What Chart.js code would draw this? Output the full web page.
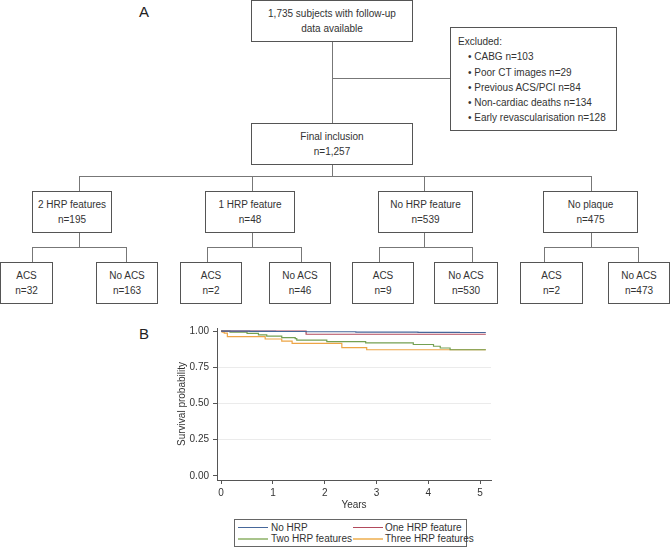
<!DOCTYPE html>
<html>
<head>
<meta charset="utf-8">
<script src="https://cdn.jsdelivr.net/npm/chart.js@4"></script>
<style>
  body { margin: 0; background: #fff; font-family: "Liberation Sans", Arial, sans-serif; color: #333; }
  #page { position: relative; width: 670px; height: 549px; overflow: hidden; background: #fff; }
  .box { position: absolute; box-sizing: border-box; border: 1px solid #555; background: #fff;
         font-size: 10px; line-height: 15px; text-align: center; padding-top: 5px; white-space: nowrap; }
  .ln { position: absolute; background: #777; }
  .lbl { position: absolute; font-size: 15px; color: #222; }
  #excl { text-align: left; padding-left: 7px; padding-top: 6px; line-height: 15.25px; }
  #excl .b { padding-left: 10px; }
  #chart { position: absolute; left: 170px; top: 318px; }
  #legend { position: absolute; left: 234px; top: 519px; width: 233px; height: 28px; box-sizing: border-box;
            border: 1px solid #666; font-size: 10px; }
  #legend span { position: absolute; line-height: 11px; white-space: nowrap; }
  #legend i { position: absolute; width: 30px; }
</style>
</head>
<body>
<div id="page">
  <div class="lbl" style="left:139px; top:3px;">A</div>
  <div class="lbl" style="left:139px; top:325px;">B</div>

  <!-- flow chart -->
  <div class="box" style="left:251px; top:0; width:162px; height:42px;">1,735 subjects with follow-up<br>data available</div>
  <div class="ln" style="left:332px; top:42px; width:1px; height:81px;"></div>
  <div class="ln" style="left:332px; top:78px; width:118px; height:1px;"></div>
  <div class="box" id="excl" style="left:450px; top:27px; width:167px; height:104px;">
    Excluded:<br>
    <span class="b">&bull; CABG n=103</span><br>
    <span class="b">&bull; Poor CT images n=29</span><br>
    <span class="b">&bull; Previous ACS/PCI n=84</span><br>
    <span class="b">&bull; Non-cardiac deaths n=134</span><br>
    <span class="b">&bull; Early revascularisation n=128</span>
  </div>
  <div class="box" style="left:251px; top:123px; width:162px; height:42px;">Final inclusion<br>n=1,257</div>
  <div class="ln" style="left:332px; top:165px; width:1px; height:11px;"></div>
  <div class="ln" style="left:79px; top:176px; width:513px; height:1px;"></div>
  <div class="ln" style="left:79px; top:176px; width:1px; height:15px;"></div>
  <div class="ln" style="left:252px; top:176px; width:1px; height:15px;"></div>
  <div class="ln" style="left:424px; top:176px; width:1px; height:15px;"></div>
  <div class="ln" style="left:591px; top:176px; width:1px; height:15px;"></div>

  <div class="box" style="left:32px; top:191px; width:80px; height:42px;">2 HRP features<br>n=195</div>
  <div class="box" style="left:205px; top:191px; width:90px; height:42px;">1 HRP feature<br>n=48</div>
  <div class="box" style="left:378px; top:191px; width:95px; height:42px;">No HRP feature<br>n=539</div>
  <div class="box" style="left:543px; top:191px; width:95px; height:42px;">No plaque<br>n=475</div>

  <div class="ln" style="left:79px; top:233px; width:1px; height:14px;"></div>
  <div class="ln" style="left:252px; top:233px; width:1px; height:14px;"></div>
  <div class="ln" style="left:424px; top:233px; width:1px; height:14px;"></div>
  <div class="ln" style="left:591px; top:233px; width:1px; height:14px;"></div>

  <div class="ln" style="left:32px; top:247px; width:95px; height:1px;"></div>
  <div class="ln" style="left:207px; top:247px; width:95px; height:1px;"></div>
  <div class="ln" style="left:379px; top:247px; width:94px; height:1px;"></div>
  <div class="ln" style="left:544px; top:247px; width:95px; height:1px;"></div>
  <div class="ln" style="left:32px; top:247px; width:1px; height:15px;"></div>
  <div class="ln" style="left:126px; top:247px; width:1px; height:15px;"></div>
  <div class="ln" style="left:207px; top:247px; width:1px; height:15px;"></div>
  <div class="ln" style="left:301px; top:247px; width:1px; height:15px;"></div>
  <div class="ln" style="left:379px; top:247px; width:1px; height:15px;"></div>
  <div class="ln" style="left:472px; top:247px; width:1px; height:15px;"></div>
  <div class="ln" style="left:544px; top:247px; width:1px; height:15px;"></div>
  <div class="ln" style="left:638px; top:247px; width:1px; height:15px;"></div>

  <div class="box" style="left:0; top:262px; width:53px; height:42px;">ACS<br>n=32</div>
  <div class="box" style="left:96px; top:262px; width:62px; height:42px;">No ACS<br>n=163</div>
  <div class="box" style="left:180px; top:262px; width:62px; height:42px;">ACS<br>n=2</div>
  <div class="box" style="left:269px; top:262px; width:62px; height:42px;">No ACS<br>n=46</div>
  <div class="box" style="left:352px; top:262px; width:62px; height:42px;">ACS<br>n=9</div>
  <div class="box" style="left:434px; top:262px; width:64px; height:42px;">No ACS<br>n=530</div>
  <div class="box" style="left:520px; top:262px; width:63px; height:42px;">ACS<br>n=2</div>
  <div class="box" style="left:608px; top:262px; width:62px; height:42px;">No ACS<br>n=473</div>

  <canvas id="chart" width="330" height="200"></canvas>

  <div id="legend">
    <i style="left:3px; top:7px; height:1px; background:#46679a;"></i>
    <span style="left:36px; top:2px;">No HRP</span>
    <i style="left:118px; top:7px; height:1px; background:#b24a5c;"></i>
    <span style="left:150px; top:2px;">One HRP feature</span>
    <i style="left:3px; top:18px; height:2px; background:#a9c48c;"></i>
    <span style="left:36px; top:13px;">Two HRP features</span>
    <i style="left:118px; top:18px; height:2px; background:#f2c27a;"></i>
    <span style="left:150px; top:13px;">Three HRP features</span>
  </div>
</div>

<script>
// Kaplan-Meier step points (years, survival probability)
const noHrpT = [0, 0.55, 1.05, 1.64, 2.6, 3.8, 4.6, 5.11];
const noHrpS = [1, 0.998, 0.997, 0.995, 0.993, 0.991, 0.99, 0.99];

const oneHrpT = [0, 1.64, 5.11];
const oneHrpS = [1, 0.978, 0.978];

const twoHrpT = [0, 0.17, 0.5, 0.72, 0.88, 1.17, 1.43, 1.46, 2.04, 2.79, 3.71, 4.1, 4.23, 4.42, 5.11];
const twoHrpS = [1, 0.993, 0.984, 0.973, 0.965, 0.955, 0.947, 0.938, 0.927, 0.918, 0.907, 0.895, 0.883, 0.871, 0.871];

const threeHrpT = [0, 0.02, 0.06, 0.12, 0.85, 1.17, 1.37, 2.33, 2.81, 5.11];
const threeHrpS = [1, 0.993, 0.985, 0.962, 0.945, 0.931, 0.915, 0.885, 0.871, 0.871];

const xTicks = [0, 1, 2, 3, 4, 5];
const yTicks = [0, 0.25, 0.5, 0.75, 1];

function pts(t, s) {
    return t.map((v, i) => ({ x: v, y: s[i] }));
}

Chart.defaults.font.family = '"Liberation Sans", Arial, sans-serif';
Chart.defaults.color = '#333';

new Chart(document.getElementById('chart'), {
    type: 'line',
    data: {
        datasets: [
            { label: 'No HRP', data: pts(noHrpT, noHrpS), borderColor: '#46679a' },
            { label: 'One HRP feature', data: pts(oneHrpT, oneHrpS), borderColor: '#b24a5c' },
            { label: 'Two HRP features', data: pts(twoHrpT, twoHrpS), borderColor: '#74a052' },
            { label: 'Three HRP features', data: pts(threeHrpT, threeHrpS), borderColor: '#eda545' }
        ]
    },
    options: {
        responsive: false,
        animation: false,
        layout: { padding: { top: 10, right: 9, left: 0, bottom: 0 } },
        elements: {
            point: { radius: 0 },
            line: { borderWidth: 1.2, stepped: true, tension: 0 }
        },
        plugins: {
            legend: { display: false },
            tooltip: { enabled: false }
        },
        scales: {
            x: {
                type: 'linear',
                min: -0.08,
                max: 5.21,
                afterBuildTicks: s => { s.ticks = xTicks.map(v => ({ value: v })); },
                afterFit: s => { s.height = 38; },
                grid: { drawOnChartArea: false, tickLength: 4, tickColor: '#555' },
                border: { color: '#555' },
                ticks: { padding: 3, font: { size: 10 } },
                title: { display: true, text: 'Years', font: { size: 10 }, padding: { top: 0, bottom: 7 } }
            },
            y: {
                min: -0.028,
                max: 1.021,
                afterBuildTicks: s => { s.ticks = yTicks.map(v => ({ value: v })); },
                afterFit: s => { s.width = 47; },
                grid: {
                    color: c => (c.tick && c.tick.value > 0 && c.tick.value < 1) ? '#ebebeb' : 'rgba(0,0,0,0)',
                    tickLength: 4,
                    tickColor: '#555'
                },
                border: { color: '#555' },
                ticks: { padding: 4, font: { size: 10 }, callback: v => v.toFixed(2) },
                title: { display: true, text: 'Survival probability', font: { size: 10 }, padding: { top: 6, bottom: 0 } }
            }
        }
    }
});
</script>
</body>
</html>
